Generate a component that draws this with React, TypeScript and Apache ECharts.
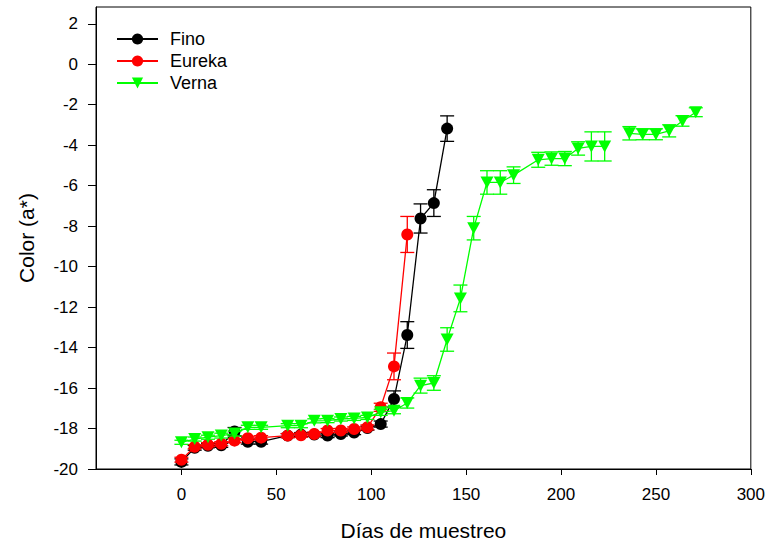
import React, { useEffect, useRef } from "react";
import * as echarts from "echarts";

const xTicks = [0, 50, 100, 150, 200, 250, 300];
const yTicks = [-20, -18, -16, -14, -12, -10, -8, -6, -4, -2, 0, 2];

const finoDays = [0, 7, 14, 21, 28, 35, 42, 56, 63, 70, 77, 84, 91, 98, 105, 112, 119, 126, 133, 140];
const finoValues = [-19.65, -18.95, -18.85, -18.83, -18.15, -18.65, -18.65, -18.35, -18.3, -18.3, -18.35, -18.27, -18.2, -17.98, -17.78, -16.54, -13.38, -7.62, -6.86, -3.18];
const finoErrors = [0.15, 0.12, 0.1, 0.1, 0.2, 0.12, 0.12, 0.1, 0.1, 0.1, 0.1, 0.1, 0.1, 0.1, 0.15, 0.4, 0.66, 0.72, 0.66, 0.63];

const eurekaDays = [0, 7, 14, 21, 28, 35, 42, 56, 63, 70, 77, 84, 91, 98, 105, 112, 119];
const eurekaValues = [-19.54, -18.9, -18.8, -18.75, -18.6, -18.48, -18.45, -18.35, -18.33, -18.27, -18.1, -18.1, -18.02, -17.94, -16.95, -14.93, -8.41];
const eurekaErrors = [0.12, 0.1, 0.1, 0.1, 0.1, 0.1, 0.1, 0.1, 0.1, 0.1, 0.1, 0.1, 0.1, 0.12, 0.2, 0.66, 0.89];

const vernaDays = [0, 7, 14, 21, 28, 35, 42, 56, 63, 70, 77, 84, 91, 98, 105, 112, 119, 126, 133, 140, 147, 154, 161, 168, 175, 188, 195, 202, 209, 216, 223, 236, 243, 250, 257, 264, 271];
const vernaValues = [-18.68, -18.52, -18.43, -18.35, -18.25, -17.94, -17.94, -17.86, -17.86, -17.62, -17.61, -17.53, -17.5, -17.45, -17.2, -17.12, -16.74, -15.88, -15.75, -13.6, -11.57, -8.1, -5.84, -5.84, -5.48, -4.72, -4.66, -4.66, -4.16, -4.06, -4.06, -3.41, -3.46, -3.46, -3.29, -2.8, -2.37];
const vernaErrors = [0.1, 0.1, 0.1, 0.12, 0.12, 0.1, 0.1, 0.1, 0.1, 0.1, 0.1, 0.1, 0.1, 0.1, 0.15, 0.15, 0.25, 0.37, 0.36, 0.58, 0.66, 0.58, 0.58, 0.58, 0.41, 0.37, 0.33, 0.35, 0.33, 0.72, 0.72, 0.33, 0.27, 0.27, 0.3, 0.26, 0.22];
// the Verna line is not drawn between these two sampling days
const vernaBreakAfter = 223;

const FONT = "Liberation Sans, Arial, sans-serif";
const TRI_DOWN = "path://M0,0 L12,0 L6,11 Z";

function errSeries(name: string, color: string, days: number[], vals: number[], errs: number[], z: number) {
  return {
    type: "custom",
    name: name + " err",
    silent: true,
    z,
    data: days.map((d, i) => [d, vals[i], errs[i]]),
    encode: { x: 0, y: 1 },
    renderItem: (_params: any, api: any) => {
      const x = api.value(0);
      const y = api.value(1);
      const e = api.value(2);
      const hi = api.coord([x, y + e]);
      const lo = api.coord([x, y - e]);
      const w = 7;
      const style = { stroke: color, lineWidth: 1.3 };
      return {
        type: "group",
        children: [
          { type: "line", shape: { x1: hi[0], y1: hi[1], x2: lo[0], y2: lo[1] }, style },
          { type: "line", shape: { x1: hi[0] - w, y1: hi[1], x2: hi[0] + w, y2: hi[1] }, style },
          { type: "line", shape: { x1: lo[0] - w, y1: lo[1], x2: lo[0] + w, y2: lo[1] }, style },
        ],
      };
    },
  };
}

export default function App() {
  const ref = useRef<HTMLDivElement>(null);
  useEffect(() => {
    if (!ref.current) return;
    const chart = echarts.init(ref.current, undefined, { renderer: "svg" });

    const vernaData: any[] = [];
    vernaDays.forEach((d, i) => {
      vernaData.push([d, vernaValues[i]]);
      if (d === vernaBreakAfter) vernaData.push([d + 1, "-"]);
    });

    const lineSeries = (name: string, color: string, data: any[], symbol: string, size: any, z: number) => ({
      type: "line",
      name,
      data,
      z,
      symbol,
      symbolSize: size,
      showSymbol: true,
      connectNulls: false,
      lineStyle: { color, width: 1.3 },
      itemStyle: { color, borderWidth: 0 },
    });

    chart.setOption({
      animation: false,
      backgroundColor: "#fff",
      textStyle: { fontFamily: FONT },
      grid: { left: 96, right: 16, top: 7, bottom: 75, show: true, borderColor: "#000", borderWidth: 1, backgroundColor: "transparent" },
      legend: {
        data: ["Fino", "Eureka", "Verna"],
        orient: "vertical",
        left: 116,
        top: 30,
        padding: 0,
        itemWidth: 41,
        itemHeight: 14,
        itemGap: 4,
        textStyle: { fontFamily: FONT, fontSize: 18, color: "#000", padding: [0, 0, 0, 7] },
      },
      xAxis: {
        type: "value",
        min: -45,
        max: 300,
        name: "Días de muestreo",
        nameLocation: "middle",
        nameGap: 51,
        nameTextStyle: { fontFamily: FONT, fontSize: 21, color: "#000" },
        axisLine: { show: true, onZero: false, lineStyle: { color: "#000", width: 1 } },
        axisTick: { show: true, inside: false, length: 6, customValues: xTicks, lineStyle: { color: "#000" } },
        axisLabel: { customValues: xTicks, margin: 17, fontFamily: FONT, fontSize: 17, color: "#000" },
        splitLine: { show: false },
      },
      yAxis: {
        type: "value",
        min: -20,
        max: 2.83,
        name: "Color (a*)",
        nameLocation: "middle",
        nameGap: 59,
        nameTextStyle: { fontFamily: FONT, fontSize: 21, color: "#000" },
        axisLine: { show: true, onZero: false, lineStyle: { color: "#000", width: 1 } },
        axisTick: { show: true, inside: false, length: 8, customValues: yTicks, lineStyle: { color: "#000" } },
        axisLabel: { customValues: yTicks, margin: 18, fontFamily: FONT, fontSize: 17, color: "#000" },
        splitLine: { show: false },
      },
      series: [
        errSeries("Fino", "#000000", finoDays, finoValues, finoErrors, 2),
        lineSeries("Fino", "#000000", finoDays.map((d, i) => [d, finoValues[i]]), "circle", 12, 3),
        errSeries("Eureka", "#ff0000", eurekaDays, eurekaValues, eurekaErrors, 4),
        lineSeries("Eureka", "#ff0000", eurekaDays.map((d, i) => [d, eurekaValues[i]]), "circle", 12, 5),
        errSeries("Verna", "#00ff00", vernaDays, vernaValues, vernaErrors, 6),
        lineSeries("Verna", "#00ff00", vernaData, TRI_DOWN, [13, 12], 7),
      ],
    });
    return () => chart.dispose();
  }, []);
  return <div ref={ref} style={{ width: 768, height: 546, position: "absolute", left: 0, top: 0 }} />;
}
